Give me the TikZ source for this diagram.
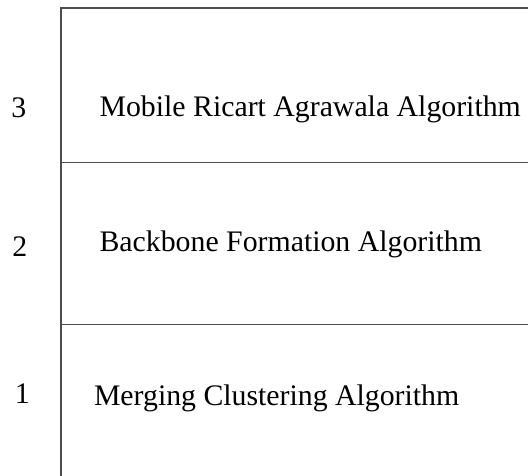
\documentclass[tikz,border=0pt]{standalone}
\usepackage{fontspec}
\setmainfont{Liberation Serif}
\begin{document}
\begin{tikzpicture}[x=1pt,y=-1pt,
  rule/.style={draw=black!70,line width=1.4pt},
  lbl/.style={anchor=base west,inner sep=0pt,outer sep=0pt,font=\fontsize{29.8}{32}\selectfont}]
\useasboundingbox (0,0) rectangle (528,476);
\coordinate (vt) at (61,8);
\coordinate (vb) at (61,476);
\coordinate (tr) at (528,8);
\coordinate (m1l) at (61,162.7);
\coordinate (m1r) at (528,162.7);
\coordinate (m2l) at (61,324.3);
\coordinate (m2r) at (528,324.3);
\draw[rule] (vb) -- (vt) -- (tr);
\draw[rule] (m1l) -- (m1r);
\draw[rule] (m2l) -- (m2r);
\node[lbl] (n3) at (11.4,118) {3};
\node[lbl] (n2) at (12.4,256.7) {2};
\node[lbl] (n1) at (15,403.5) {1};
\node[lbl] (t3) at (99.6,116.8) {Mobile Ricart Agrawala Algorithm};
\node[lbl] (t2) at (99.6,251.7) {Backbone Formation Algorithm};
\node[lbl] (t1) at (94,405) {Merging Clustering Algorithm};
\end{tikzpicture}
\end{document}
